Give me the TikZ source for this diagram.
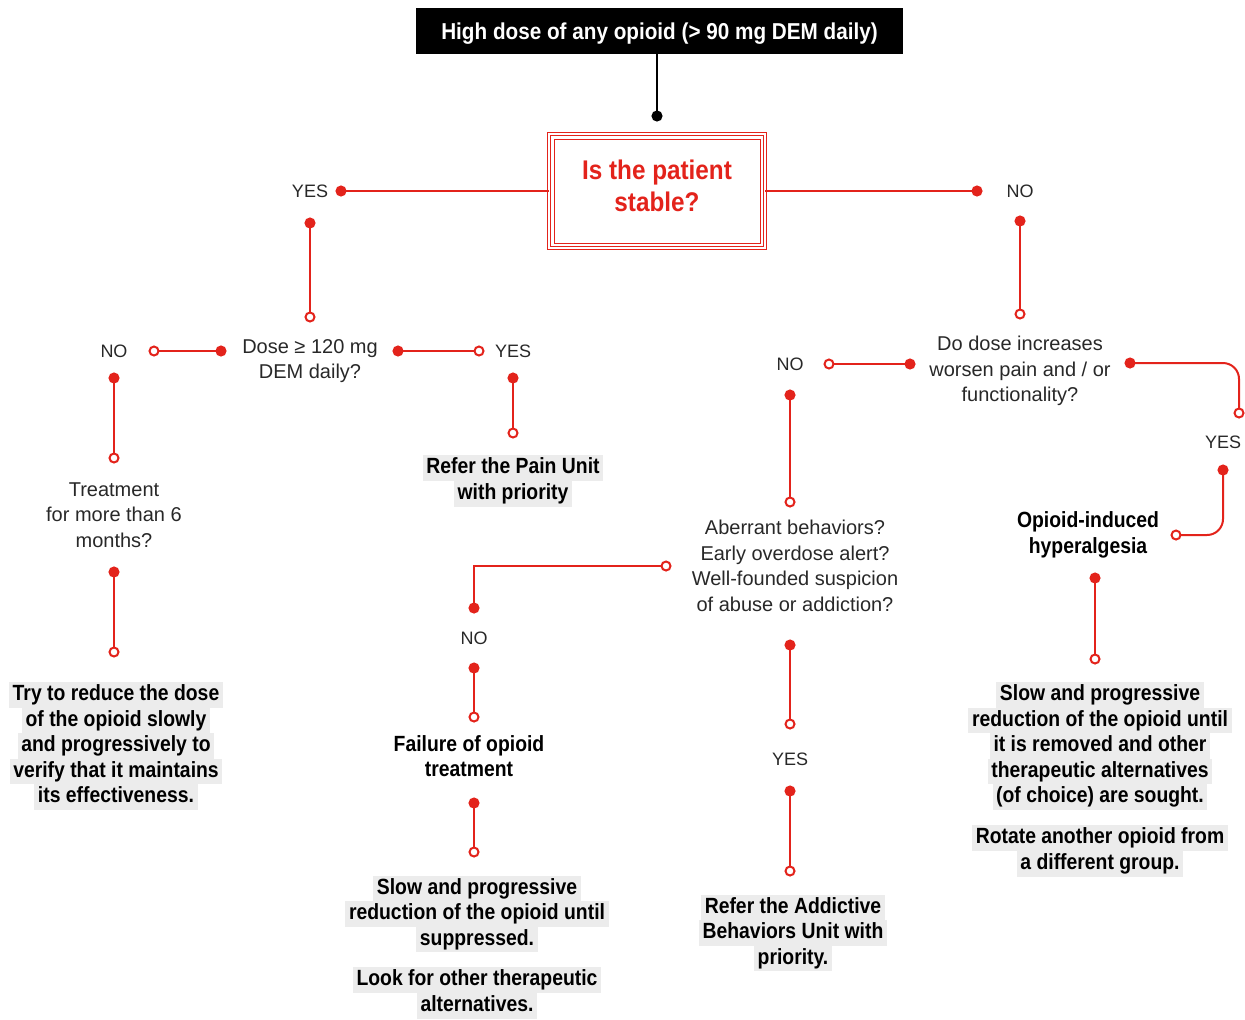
\documentclass[tikz,border=0pt]{standalone}
\usepackage{fontspec}
\setmainfont{Liberation Sans}
\newfontfamily\narrowfont{Liberation Sans}[FakeStretch=0.88]
\newfontfamily\headfont{Liberation Sans}[FakeStretch=0.9]
\usepackage{xcolor}
\definecolor{optred}{RGB}{227,35,27}
\definecolor{hlgray}{RGB}{236,236,236}
\definecolor{txtgray}{RGB}{40,40,40}
\usepackage{tikz}
\usetikzlibrary{positioning}
\usetikzlibrary{arrows.meta}
\usetikzlibrary{calc}
\newcommand{\hl}[1]{{\setlength{\fboxsep}{0pt}\colorbox{hlgray}{\rule[-3.6pt]{0pt}{12.8pt}\kern1.8pt#1\kern1.8pt}}}
\tikzset{question/.style={align=center,inner sep=0pt,text=txtgray,font=\fontsize{10}{12.75}\selectfont},
	answer/.style={inner sep=0pt,text=txtgray,font=\fontsize{9}{11}\selectfont},
	outcome/.style={align=center,inner sep=0pt,font=\narrowfont\bfseries\fontsize{11}{12.8}\selectfont},
	topbox/.style={fill=black,text=white,inner sep=0pt,minimum width=243.5pt,minimum height=23pt,text height=9pt,text depth=1pt,font=\headfont\bfseries\fontsize{11.5}{14}\selectfont},
	stablebox/.style={draw=optred,line width=0.5pt,double=white,double distance=1.2pt,outer sep=0pt,align=center,minimum width=108pt,minimum height=57pt,text depth=5pt,text=optred,font=\headfont\bfseries\fontsize{13.5}{16}\selectfont},
	link/.style={draw=optred,line width=1pt,{Circle[length=5.5pt]}-{Circle[open,length=5.5pt,fill=white]}},
	stem/.style={draw=optred,line width=1pt,-{Circle[length=5.5pt]}},
	trunk/.style={draw=black,line width=1pt,-{Circle[length=5.5pt]}},}

\begin{document}
\begin{tikzpicture}[x=0.5pt,y=-0.5pt]
	\useasboundingbox (0,0) rectangle (1245,1019);
	\node[topbox] (top) at (659.5,31) {High dose of any opioid (> 90 mg DEM daily)};
	\node[stablebox] (stable) at (657,191) {Is the patient\\stable?};
	\draw[optred,line width=0.5pt] ([shift={(2.5pt,-2.5pt)}]stable.north west) rectangle ([shift={(-2.5pt,2.5pt)}]stable.south east);

	\node[answer] (yes1) at (310,191) {YES};
	\node[answer] (no1) at (1020,191) {NO};
	\node[question] (dose) at (310,361) {Dose ≥ 120 mg\\DEM daily?};
	\node[answer] (no2) at (114,351) {NO};
	\node[answer] (yes2) at (513,351) {YES};
	\node[question] (treat) at (114,515) {Treatment\\for more than 6\\months?};
	\node[outcome] (tryred) at (116,746) {\hl{Try to reduce the dose}\\\hl{of the opioid slowly}\\\hl{and progressively to}\\\hl{verify that it maintains}\\\hl{its effectiveness.}};
	\node[outcome] (pain) at (513,481) {\hl{Refer the Pain Unit}\\\hl{with priority}};

	\node[question] (doinc) at (1020,371) {Do dose increases\\worsen pain and / or\\functionality?};
	\node[answer] (no3) at (790,364) {NO};
	\node[answer] (yes3) at (1223,442) {YES};
	\node[outcome] (hyper) at (1088,535) {Opioid-induced\\hyperalgesia};
	\node[outcome] (slowA) at (1100,746) {\hl{Slow and progressive}\\\hl{reduction of the opioid until}\\\hl{it is removed and other}\\\hl{therapeutic alternatives}\\\hl{(of choice) are sought.}};
	\node[outcome] (rotate) at (1100,851) {\hl{Rotate another opioid from}\\\hl{a different group.}};

	\node[question] (aberr) at (795,566) {Aberrant behaviors?\\Early overdose alert?\\Well-founded suspicion\\of abuse or addiction?};
	\node[answer] (no4) at (474,638) {NO};
	\node[outcome] (failure) at (469,756) {Failure of opioid\\treatment};
	\node[outcome] (slowB) at (477,914) {\hl{Slow and progressive}\\\hl{reduction of the opioid until}\\\hl{suppressed.}};
	\node[outcome] (look) at (477,993) {\hl{Look for other therapeutic}\\\hl{alternatives.}};
	\node[answer] (yes4) at (790,759) {YES};
	\node[outcome] (addict) at (793,933) {\hl{Refer the Addictive}\\\hl{Behaviors Unit with}\\\hl{priority.}};

	\draw[trunk,shorten >=6.25pt] (stable |- top.south) -- (stable);
	\draw[stem,shorten >=12.75pt] (stable) -- (yes1.center);
	\draw[stem,shorten >=18.75pt] (stable) -- (no1.center);

	% stable branch
	\draw[link,shorten <=13.25pt,shorten >=19.25pt] (yes1.center) -- (dose.center);
	\draw[link,shorten <=41.75pt,shorten >=17.25pt] (no2 -| dose) -- (no2.center);
	\draw[link,shorten <=41.25pt,shorten >=14.25pt] (yes2 -| dose) -- (yes2.center);
	\draw[link,shorten <=10.75pt,shorten >=25.75pt] (no2.center) -- (treat.center);
	\draw[link,shorten <=25.75pt,shorten >=44.25pt] (treat.center) -- (treat.center |- tryred.center);
	\draw[link,shorten <=10.75pt,shorten >=21.25pt] (yes2.center) -- (pain.center);

	% unstable branch
	\draw[link,shorten <=12.25pt,shorten >=25.75pt] (no1.center) -- (doinc.center);
	\draw[link,shorten <=52.25pt,shorten >=16.75pt] (no3 -| doinc) -- (no3.center);
	\draw[link,rounded corners=8pt,shorten <=52.25pt] ([yshift=4pt]doinc.center) -| ([xshift=8pt,yshift=11.75pt]yes3.center);
	\draw[link,rounded corners=8pt,shorten <=11.25pt,shorten >=41.25pt] (yes3.center) |- (hyper.center);
	\draw[link,shorten <=18.75pt,shorten >=40.75pt] ($(hyper.center)+(7,0)$) -- ($(hyper.center |- slowA.center)+(7,0)$);
	\draw[link,shorten <=12.75pt,shorten >=29.25pt] (no3.center) -- (no3.center |- aberr.center);
	\draw[link,shorten <=12.25pt,shorten >=61.75pt] (no4.center) |- (aberr.center);
	\draw[link,shorten <=12.25pt,shorten >=16.75pt] (no4.center) -- (no4.center |- failure.center);
	\draw[link,shorten <=20.75pt,shorten >=28.25pt] (no4.center |- failure.center) -- (no4.center |- slowB.center);
	\draw[link,shorten <=36.75pt,shorten >=14.75pt] (yes4.center |- aberr.center) -- (yes4.center);
	\draw[link,shorten <=13.25pt,shorten >=28.25pt] (yes4.center) -- (yes4.center |- addict.center);
\end{tikzpicture}
\end{document}
